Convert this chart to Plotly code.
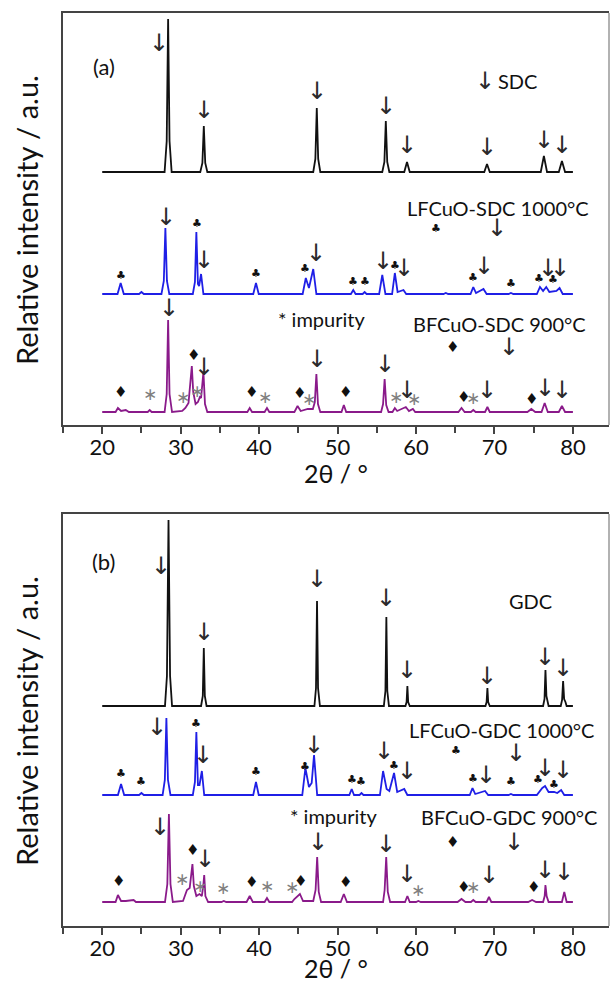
import plotly.graph_objects as go

# ---------------- DATA (2theta, intensity above each pattern's baseline) ----------------
# Panel (a)
A_SDC = [(20, 0), (27.95, 0), (28.22, 31), (28.4, 153), (28.58, 31), (28.85, 0),
         (32.5, 0), (32.77, 9), (32.95, 46), (33.13, 9), (33.4, 0),
         (46.9, 0), (47.17, 13), (47.35, 64), (47.53, 13), (47.8, 0),
         (55.7, 0), (55.97, 10), (56.15, 51), (56.33, 10), (56.6, 0),
         (58.5, 0), (58.85, 10), (59.2, 0), (68.7, 0), (69.05, 8), (69.4, 0),
         (75.9, 0), (76.3, 16), (76.7, 0), (78.2, 0), (78.6, 11), (79.0, 0), (80, 0)]
A_LFCUO = [(20, 0), (21.95, 0), (22.35, 11), (22.75, 0), (24.7, 0), (25.0, 2), (25.3, 0),
           (27.55, 0), (27.85, 13), (28.05, 66), (28.25, 13), (28.55, 0),
           (31.55, 0), (31.82, 12), (32.0, 62), (32.2, 10), (32.35, 8), (32.6, 20), (32.9, 0),
           (39.25, 0), (39.6, 11), (39.95, 0),
           (45.55, 0), (45.95, 16), (46.35, 6), (46.9, 25), (47.3, 0),
           (51.7, 0), (52.0, 4), (52.3, 0), (53.2, 0), (53.45, 2), (53.7, 0),
           (55.3, 0), (55.7, 19), (56.1, 0), (56.95, 0), (57.3, 21), (57.65, 2), (58.4, 4), (58.75, 0),
           (63.5, 0), (63.8, 1), (64.1, 0),
           (66.95, 0), (67.3, 7), (67.65, 1), (68.6, 5), (69.0, 0), (71.8, 0), (72.1, 1), (72.4, 0),
           (75.4, 0), (75.8, 7), (76.2, 3), (76.6, 7), (77.0, 2), (77.6, 3), (77.9, 3), (78.3, 6),
           (78.7, 0), (80, 0)]
A_BFCUO = [(20, 0), (21.7, 0), (22.0, 4), (22.4, 1), (23.0, 2), (23.4, 0), (25.8, 0), (26.05, 2), (26.3, 0),
           (27.95, 0), (28.22, 18), (28.4, 92), (28.58, 18), (28.9, 0),
           (30.2, 1), (30.6, 4), (31.0, 9), (31.25, 30), (31.42, 46), (31.6, 20), (31.9, 8), (32.2, 10),
           (32.45, 15), (32.6, 14), (32.75, 24), (32.9, 40), (33.1, 8), (33.4, 0),
           (38.5, 0), (38.8, 4), (39.1, 0), (40.7, 0), (41.0, 4), (41.3, 0),
           (44.5, 0), (44.9, 6), (45.3, 1), (46.2, 3), (46.85, 3), (47.1, 10), (47.3, 38), (47.5, 8), (47.8, 0),
           (50.5, 0), (50.8, 7), (51.1, 0), (55.55, 0), (55.8, 8), (56.0, 33), (56.2, 7), (56.5, 0),
           (57.0, 0), (57.3, 4), (57.6, 1), (58.7, 5), (59.1, 1), (59.6, 3), (59.9, 0),
           (65.4, 0), (65.8, 4), (66.2, 0), (67.0, 0), (67.3, 2), (67.6, 0), (68.8, 0), (69.1, 5), (69.4, 0),
           (74.2, 0), (74.7, 3), (75.2, 0), (76.0, 0), (76.4, 9), (76.8, 0), (78.2, 0), (78.6, 6), (79.0, 0),
           (80, 0)]
# Panel (b)
B_GDC = [(20, 0), (28.0, 0), (28.25, 30), (28.45, 186), (28.65, 30), (28.9, 0),
         (32.6, 0), (32.82, 10), (32.95, 58), (33.08, 10), (33.3, 0),
         (47.05, 0), (47.25, 18), (47.38, 105), (47.51, 18), (47.75, 0),
         (55.9, 0), (56.1, 15), (56.22, 89), (56.34, 15), (56.55, 0),
         (58.65, 0), (58.8, 4), (58.9, 20), (59.0, 4), (59.2, 0),
         (68.85, 0), (69.0, 4), (69.1, 18), (69.2, 4), (69.4, 0),
         (76.2, 0), (76.38, 7), (76.5, 36), (76.62, 10), (76.75, 6), (76.9, 0),
         (78.45, 0), (78.62, 6), (78.75, 25), (78.88, 7), (79.05, 4), (79.2, 0), (80, 0)]
B_LFCUO = [(20, 0), (22.0, 0), (22.4, 11), (22.8, 0), (24.7, 0), (25.0, 2), (25.3, 0),
           (27.7, 0), (27.98, 15), (28.18, 77), (28.38, 15), (28.7, 0),
           (31.55, 0), (31.82, 13), (32.0, 63), (32.2, 10), (32.4, 10), (32.7, 24), (33.0, 0),
           (39.25, 0), (39.6, 13), (39.95, 0),
           (45.5, 0), (45.9, 27), (46.35, 8), (46.7, 12), (47.0, 40), (47.4, 0),
           (51.5, 0), (51.8, 6), (52.1, 0), (52.8, 0), (53.05, 2), (53.3, 0),
           (55.4, 0), (55.8, 24), (56.25, 6), (56.6, 4), (57.2, 22), (57.6, 3), (58.5, 6), (58.9, 0),
           (66.85, 0), (67.2, 7), (67.55, 1), (68.8, 4), (69.2, 0), (71.8, 0), (72.1, 1), (72.4, 0),
           (75.4, 0), (75.8, 4), (76.1, 7), (76.45, 9), (76.9, 3), (77.6, 3), (78.0, 2), (78.5, 5),
           (78.9, 0), (80, 0)]
B_BFCUO = [(20, 0), (21.7, 0), (22.0, 7), (22.4, 1), (23.0, 1), (24.0, 2), (24.3, 0),
           (28.0, 0), (28.3, 18), (28.5, 88), (28.7, 18), (29.0, 0),
           (30.3, 1), (30.8, 12), (31.15, 14), (31.35, 30), (31.5, 38), (31.68, 16), (32.0, 6), (32.4, 8),
           (32.7, 6), (32.88, 16), (33.0, 27), (33.15, 6), (33.5, 0), (35.2, 0), (35.5, 1), (35.8, 0),
           (38.4, 0), (38.8, 6), (39.2, 0), (40.7, 0), (41.0, 4), (41.3, 0),
           (44.2, 0), (44.5, 3), (45.2, 8), (45.6, 1), (46.9, 1), (47.2, 12), (47.4, 45), (47.6, 10), (47.9, 0),
           (50.4, 0), (50.8, 8), (51.2, 0), (55.8, 0), (56.0, 12), (56.2, 45), (56.4, 10), (56.7, 0),
           (58.6, 0), (58.9, 6), (59.2, 0), (60.0, 0), (60.3, 1), (60.6, 0),
           (65.3, 0), (65.8, 3), (66.3, 0), (67.0, 0), (67.3, 2), (67.6, 0), (69.0, 0), (69.3, 5), (69.6, 0),
           (74.3, 0), (74.8, 2), (75.3, 0), (76.2, 0), (76.4, 6), (76.5, 17), (76.65, 6), (76.9, 0),
           (78.6, 0), (78.9, 10), (79.2, 0), (80, 0)]

# vertical offsets of the stacked patterns
A_OFFSETS = [253, 131, 13]
B_OFFSETS = [220, 131, 24]

# phase markers (2theta, height on the panel scale)
A_ARROWS = [(27.2, 382), (32.95, 315), (47.35, 334), (56.15, 319), (58.85, 280), (69.05, 278), (76.3, 285), (78.6, 280),
            (28.1, 208), (33.0, 165), (47.2, 172), (55.8, 164), (58.5, 157), (68.7, 159), (76.8, 157), (78.4, 157),
            (28.5, 117), (33.0, 58), (47.4, 66), (56.1, 61), (58.8, 35), (69.1, 35), (76.5, 37), (78.6, 35),
            (68.8, 344), (70.3, 197), (71.8, 78)]
A_CLUBS = [(22.4, 150), (32.1, 202), (39.6, 152), (45.9, 157), (52.0, 144), (53.5, 144), (57.3, 160),
           (67.2, 148), (72.1, 142), (75.7, 147), (77.5, 145.5), (62.5, 197)]
A_DIAMONDS = [(22.3, 33), (31.6, 70), (39.0, 33), (45.1, 32), (51.0, 33), (66.0, 28), (74.7, 26), (64.6, 78)]
A_STARS = [(26.1, 31), (30.3, 28), (32.1, 34), (40.8, 28), (46.3, 26), (57.5, 28), (59.8, 26), (67.3, 27)]

B_ARROWS = [(27.5, 360), (32.95, 294), (47.4, 347), (56.2, 328), (58.9, 256), (69.1, 250), (76.5, 269), (78.75, 258),
            (27.0, 199), (32.8, 171), (47.0, 181), (55.9, 175), (58.9, 155), (68.9, 151), (76.5, 158), (78.7, 156),
            (27.4, 99), (33.1, 67), (47.5, 84), (56.2, 82), (58.9, 52), (69.3, 51), (76.5, 56), (78.9, 54),
            (72.8, 173), (72.5, 84.5)]
B_CLUBS = [(22.4, 153), (25.0, 145), (32.0, 203), (39.6, 155), (45.9, 160), (51.8, 147), (53.0, 145), (57.2, 161),
           (67.2, 148), (72.1, 145), (75.5, 147), (77.6, 142), (65.1, 176)]
B_DIAMONDS = [(22.1, 45), (31.5, 76), (39.0, 44), (45.3, 45), (51.0, 44), (66.0, 39), (75.0, 39), (64.7, 84.5)]
B_STARS = [(30.2, 47), (32.4, 40), (35.4, 38), (41.0, 40), (44.2, 39), (60.2, 36), (67.3, 39)]

A_LABELS = [("(a)", 20.2, 359), ("SDC", 72.9, 344), ("LFCuO-SDC 1000°C", 70.4, 217),
            ("* impurity", 48.0, 106), ("BFCuO-SDC 900°C", 70.7, 101)]
B_LABELS = [("(b)", 20.2, 365), ("GDC", 74.6, 325), ("LFCuO-GDC 1000°C", 70.9, 196),
            ("* impurity", 49.5, 110), ("BFCuO-GDC 900°C", 71.8, 109)]

X_TICKS = [20, 30, 40, 50, 60, 70, 80]
COLORS = ["#111111", "#1f1fe6", "#8a1a8a"]

# ---------------- FIGURE ----------------
W, H = 611, 983
fig = go.Figure()

def add_pattern(pts, off, color, xa, ya):
    fig.add_trace(go.Scatter(x=[p[0] for p in pts], y=[p[1] + off for p in pts], mode="lines",
                             line=dict(color=color, width=1.8), xaxis=xa, yaxis=ya,
                             showlegend=False, hoverinfo="skip"))

for pts, off, c in zip([A_SDC, A_LFCUO, A_BFCUO], A_OFFSETS, COLORS):
    add_pattern(pts, off, c, "x", "y")
for pts, off, c in zip([B_GDC, B_LFCUO, B_BFCUO], B_OFFSETS, COLORS):
    add_pattern(pts, off, c, "x2", "y2")

ann = []
def sym(lst, text, color, size, font, xr, yr):
    for x, y in lst:
        ann.append(dict(x=x, y=y, xref=xr, yref=yr, text=text, showarrow=False,
                        xanchor="center", yanchor="middle",
                        font=dict(family=font, size=size, color=color)))

ARROW = "\u2193"
for xr, yr, ar, cl, di, st, lab in [("x", "y", A_ARROWS, A_CLUBS, A_DIAMONDS, A_STARS, A_LABELS),
                                     ("x2", "y2", B_ARROWS, B_CLUBS, B_DIAMONDS, B_STARS, B_LABELS)]:
    sym(ar, ARROW, "#2a2a2a", 24, "DejaVu Sans", xr, yr)
    sym(cl, "♣", "#111111", 11, "DejaVu Sans", xr, yr)
    sym(di, "♦", "#111111", 15, "DejaVu Sans", xr, yr)
    sym(st, "∗", "#808080", 17, "DejaVu Sans", xr, yr)
    for t, x, y in lab:
        ann.append(dict(x=x, y=y, xref=xr, yref=yr, text=t, showarrow=False,
                        xanchor="center", yanchor="middle",
                        font=dict(family="Lato", size=20 if t[0] != "(" else 22, color="#111111")))

# axis titles
for yc in [220, 721]:
    ann.append(dict(x=26 / W, y=1 - yc / H, xref="paper", yref="paper", text="Relative intensity / a.u.",
                    textangle=-90, showarrow=False, xanchor="center", yanchor="middle",
                    font=dict(family="Lato", size=29, color="#111111")))
for yc in [473, 968]:
    ann.append(dict(x=336 / W, y=1 - yc / H, xref="paper", yref="paper", text="2θ / °",
                    showarrow=False, xanchor="center", yanchor="middle",
                    font=dict(family="Lato", size=25, color="#111111")))

xdom = [63 / W, 609 / W]
ydom_a = [1 - 425 / H, 1 - 13 / H]
ydom_b = [1 - 926 / H, 1 - 514 / H]

def xax(anchor):
    return dict(domain=xdom, range=[15, 84.6], anchor=anchor, tickvals=X_TICKS,
                ticks="outside", ticklen=7, tickwidth=1.5, tickcolor="#444", ticklabelstandoff=-5,
                minor=dict(tickvals=[15, 25, 35, 45, 55, 65, 75, 85], ticks="outside", ticklen=6,
                           tickwidth=1.5, tickcolor="#444"),
                showline=True, linewidth=2, linecolor="#444", mirror=True, showgrid=False, zeroline=False,
                tickfont=dict(family="Lato", size=22, color="#111"))

def yax(dom, anchor):
    return dict(domain=dom, range=[0, 412], anchor=anchor, showticklabels=False, ticks="",
                showline=True, linewidth=2, linecolor="#444", mirror=False, showgrid=False, zeroline=False)

shapes = []
for dom in [ydom_a, ydom_b]:
    shapes.append(dict(type="line", xref="paper", yref="paper", x0=xdom[1], x1=xdom[1], y0=dom[0], y1=dom[1],
                       line=dict(color="#999", width=1.5)))

fig.update_layout(width=W, height=H, margin=dict(l=0, r=0, t=0, b=0),
                  paper_bgcolor="white", plot_bgcolor="white",
                  xaxis=xax("y"), yaxis=yax(ydom_a, "x"),
                  xaxis2=xax("y2"), yaxis2=yax(ydom_b, "x2"),
                  annotations=ann, shapes=shapes)

fig.write_html("out.html")
